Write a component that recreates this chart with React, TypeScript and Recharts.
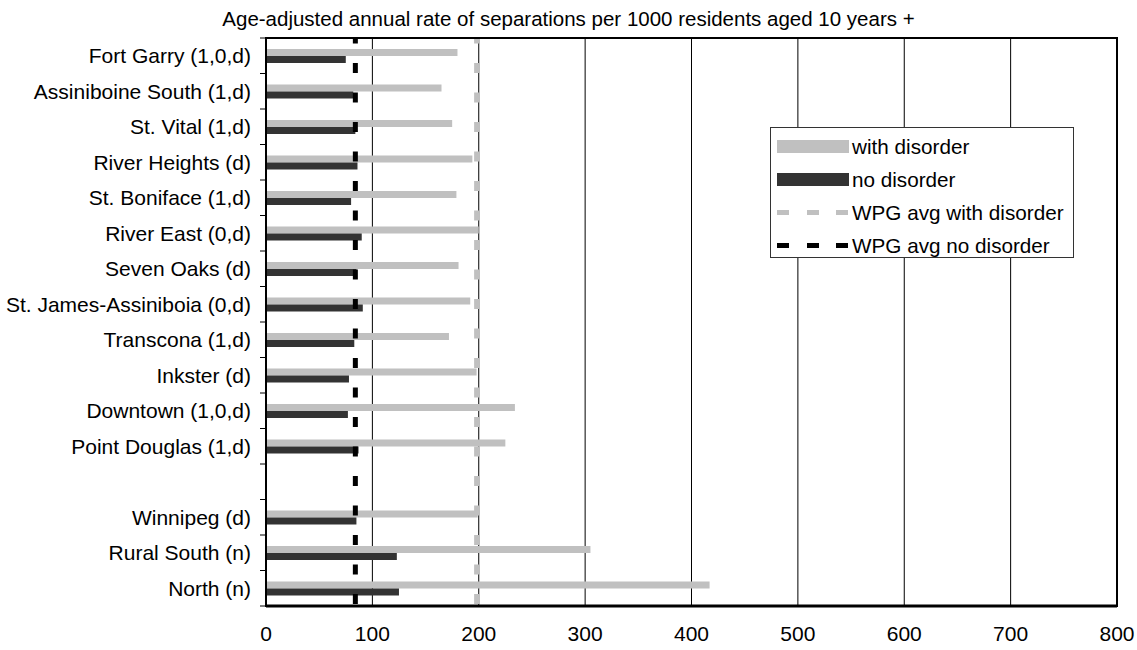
import React from 'react';
import {
  BarChart,
  Bar,
  XAxis,
  YAxis,
  CartesianGrid,
  ReferenceLine,
  ReferenceArea,
  Legend,
} from 'recharts';

const SUBTITLE = 'Age-adjusted annual rate of separations per 1000 residents aged 10 years +';

const CATEGORIES = [
  'Fort Garry (1,0,d)',
  'Assiniboine South (1,d)',
  'St. Vital (1,d)',
  'River Heights (d)',
  'St. Boniface (1,d)',
  'River East (0,d)',
  'Seven Oaks (d)',
  'St. James-Assiniboia (0,d)',
  'Transcona (1,d)',
  'Inkster (d)',
  'Downtown (1,0,d)',
  'Point Douglas (1,d)',
  '',
  'Winnipeg  (d)',
  'Rural South (n)',
  'North (n)',
];

const WITH_DISORDER = [180, 165, 175, 194, 179, 200, 181, 192, 172, 198, 234, 225, null, 199, 305, 417];
const NO_DISORDER = [75, 82, 84, 86, 80, 90, 85, 91, 83, 78, 77, 87, null, 85, 123, 125];

const WPG_AVG_WITH = 198;
const WPG_AVG_NO = 84;

const X_TICKS = [0, 100, 200, 300, 400, 500, 600, 700, 800];

const LEGEND_ITEMS = [
  { label: 'with disorder', kind: 'bar', color: '#C0C0C0' },
  { label: 'no disorder', kind: 'bar', color: '#333333' },
  { label: 'WPG avg with disorder', kind: 'dash', color: '#C0C0C0' },
  { label: 'WPG avg no disorder', kind: 'dash', color: '#000000' },
];

const data = CATEGORIES.map((name, i) => ({
  name,
  withDisorder: WITH_DISORDER[i],
  noDisorder: NO_DISORDER[i],
}));

const FONT = '"Liberation Sans", Arial, sans-serif';
const FONT_SIZE = 21;
const TICK_SIZE = 6;
const TICK_MARGIN = 9;

const CategoryTick = (props: any) => {
  const { x, y, payload, index } = props;
  const half = typeof payload.offset === 'number' ? payload.offset : 0;
  const axisX = x + TICK_MARGIN + TICK_SIZE;
  return (
    <g>
      <line x1={axisX - TICK_SIZE} x2={axisX} y1={y - half} y2={y - half} stroke="#000" strokeWidth={1} />
      {index === CATEGORIES.length - 1 && (
        <line x1={axisX - TICK_SIZE} x2={axisX} y1={y + half} y2={y + half} stroke="#000" strokeWidth={1} />
      )}
      <text
        x={x}
        y={y}
        textAnchor="end"
        dominantBaseline="central"
        fontSize={FONT_SIZE}
        fontFamily={FONT}
        fill="#000"
      >
        {payload.value}
      </text>
    </g>
  );
};

const LegendBox = () => (
  <div
    style={{
      width: 304,
      height: 131,
      boxSizing: 'border-box',
      border: '1px solid #333',
      background: '#fff',
      paddingTop: 2,
      fontFamily: FONT,
      fontSize: 20.7,
      color: '#000',
    }}
  >
    {LEGEND_ITEMS.map((it) => (
      <div key={it.label} style={{ height: 33, display: 'flex', alignItems: 'center' }}>
        <div style={{ width: 72, marginLeft: 6, marginRight: 3, height: 13, position: 'relative' }}>
          {it.kind === 'bar' ? (
            <div style={{ position: 'absolute', left: 0, top: 0, width: 72, height: 13, background: it.color }} />
          ) : (
            [0, 30, 59].map((l) => (
              <div
                key={l}
                style={{ position: 'absolute', left: l, top: 4, width: 12, height: 5, background: it.color }}
              />
            ))
          )}
        </div>
        <span style={{ lineHeight: '21px', whiteSpace: 'nowrap' }}>{it.label}</span>
      </div>
    ))}
  </div>
);

export default function App() {
  return (
    <div style={{ position: 'absolute', left: 0, top: 0, width: 1137, height: 650, fontFamily: FONT, background: '#fff' }}>
      <div
        style={{
          position: 'absolute',
          left: 0,
          top: 8,
          width: 1137,
          textAlign: 'center',
          fontSize: 20.5,
          lineHeight: '21px',
          whiteSpace: 'nowrap',
        }}
      >
        {SUBTITLE}
      </div>
      <BarChart
        width={1137}
        height={650}
        data={data}
        layout="vertical"
        margin={{ top: 31, right: 20, bottom: 0, left: 0 }}
        barGap={0}
        style={{ fontFamily: FONT }}
      >
        <CartesianGrid horizontal={false} vertical stroke="#000" strokeWidth={1} />
        <XAxis
          type="number"
          domain={[0, 800]}
          ticks={X_TICKS}
          interval={0}
          height={44}
          tickLine={false}
          tickSize={6}
          tickMargin={14}
          axisLine={{ stroke: '#000', strokeWidth: 3 }}
          tick={{ fontSize: FONT_SIZE, fill: '#000', fontFamily: FONT }}
        />
        <XAxis
          xAxisId="top"
          orientation="top"
          type="number"
          domain={[0, 800]}
          ticks={X_TICKS}
          interval={0}
          height={7}
          tickSize={7}
          tick={false}
          tickLine={{ stroke: '#000' }}
          axisLine={{ stroke: '#000', strokeWidth: 2 }}
        />
        <YAxis
          type="category"
          dataKey="name"
          width={266}
          interval={0}
          tickSize={TICK_SIZE}
          tickMargin={TICK_MARGIN}
          tickLine={false}
          axisLine={{ stroke: '#000', strokeWidth: 2 }}
          tick={<CategoryTick />}
        />
        <Bar dataKey="withDisorder" name="with disorder" fill="#C0C0C0" barSize={7} isAnimationActive={false} />
        <Bar dataKey="noDisorder" name="no disorder" fill="#333333" barSize={7} isAnimationActive={false} />
        <ReferenceLine
          x={WPG_AVG_WITH}
          stroke="#C0C0C0"
          strokeWidth={5}
          strokeDasharray="0 2 10 17.5"
        />
        <ReferenceLine
          x={WPG_AVG_NO}
          stroke="#000"
          strokeWidth={5}
          strokeDasharray="0 2 10 17.5"
        />
        <ReferenceArea x1={0} x2={800} fill="none" fillOpacity={0} stroke="#000" strokeWidth={2} />
        <Legend
          layout="vertical"
          align="center"
          verticalAlign="middle"
          wrapperStyle={{ position: 'absolute', left: 770, top: 127, width: 304, height: 131 }}
          content={() => <LegendBox />}
        />
      </BarChart>
    </div>
  );
}
